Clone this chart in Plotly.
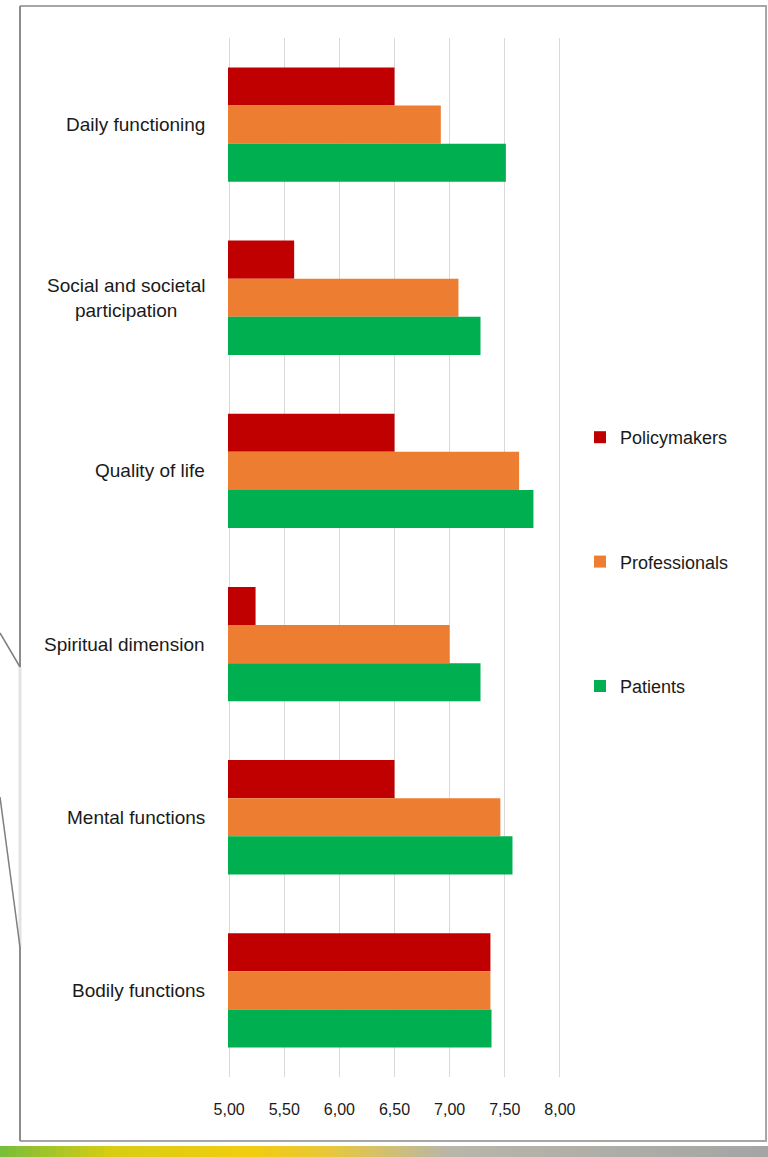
import plotly.graph_objects as go

categories = ["Daily functioning", "Social and societal<br>participation", "Quality of life",
              "Spiritual dimension", "Mental functions", "Bodily functions"]
policymakers = [6.50, 5.59, 6.50, 5.24, 6.50, 7.37]
professionals = [6.92, 7.08, 7.63, 7.00, 7.46, 7.37]
patients = [7.51, 7.28, 7.76, 7.28, 7.57, 7.38]
tick_vals = [5.0, 5.5, 6.0, 6.5, 7.0, 7.5, 8.0]
tick_text = ["5,00", "5,50", "6,00", "6,50", "7,00", "7,50", "8,00"]

W, H = 768, 1157
L, R, T, B = 228, 561, 38, 1077  # plot area in pixels

def px(x):
    return (x - L) / (R - L)

def py(y):
    return (B - y) / (B - T)

FONT = "Liberation Sans, Arial, sans-serif"
TXT = "#1a1a1a"

fig = go.Figure()
series = [("Policymakers", policymakers, "#c00000"),
          ("Professionals", professionals, "#ed7d31"),
          ("Patients", patients, "#00b050")]
for name, vals, col in series:
    fig.add_trace(go.Bar(y=categories, x=vals, name=name, orientation="h",
                         marker=dict(color=col, line=dict(width=0)),
                         legendgroup=name))

# category labels (centered multi-line like the original)
for c in categories:
    fig.add_annotation(x=px(207), y=c, xref="paper", yref="y", text=c,
                       showarrow=False, xanchor="right", align="center",
                       font=dict(family=FONT, size=19, color=TXT))

shapes = []
# frame
fr = "#a6a6a6"
shapes.append(dict(type="line", xref="paper", yref="paper", x0=px(20), x1=px(767), y0=py(6), y1=py(6), line=dict(color=fr, width=2)))
shapes.append(dict(type="line", xref="paper", yref="paper", x0=px(766), x1=px(766), y0=py(6), y1=py(1141), line=dict(color=fr, width=2)))
shapes.append(dict(type="line", xref="paper", yref="paper", x0=px(20), x1=px(767), y0=py(1141), y1=py(1141), line=dict(color=fr, width=2)))
shapes.append(dict(type="line", xref="paper", yref="paper", x0=px(20), x1=px(20), y0=py(6), y1=py(667), line=dict(color="#8c8c8c", width=2)))
shapes.append(dict(type="line", xref="paper", yref="paper", x0=px(20), x1=px(20), y0=py(667), y1=py(947), line=dict(color="#e3e3e3", width=3)))
shapes.append(dict(type="line", xref="paper", yref="paper", x0=px(20), x1=px(20), y0=py(947), y1=py(1141), line=dict(color="#8c8c8c", width=2)))
shapes.append(dict(type="line", xref="paper", yref="paper", x0=px(0), x1=px(20), y0=py(633), y1=py(667), line=dict(color="#7f7f7f", width=1.5)))
shapes.append(dict(type="line", xref="paper", yref="paper", x0=px(0), x1=px(20), y0=py(797), y1=py(947), line=dict(color="#7f7f7f", width=1.5)))

# bottom gradient band
stops = [(0, (120, 190, 60)), (110, (215, 205, 20)), (250, (242, 205, 15)), (330, (232, 200, 60)),
         (450, (185, 182, 170)), (768, (165, 165, 165))]
def colat(x):
    for (xa, ca), (xb, cb) in zip(stops[:-1], stops[1:]):
        if xa <= x <= xb:
            t = (x - xa) / (xb - xa)
            return tuple(int(ca[i] + (cb[i] - ca[i]) * t) for i in range(3))
    return stops[-1][1]
step = 8
for x0 in range(0, 768, step):
    c = colat(x0 + step / 2)
    shapes.append(dict(type="rect", xref="paper", yref="paper", x0=px(x0), x1=px(x0 + step + 0.5),
                       y0=py(1157), y1=py(1146), fillcolor="rgb(%d,%d,%d)" % c, line=dict(width=0), layer="below"))

fig.update_layout(
    width=W, height=H,
    margin=dict(l=L, r=W - R, t=T, b=H - B, pad=0),
    paper_bgcolor="white", plot_bgcolor="white",
    barmode="group", bargap=0.34, bargroupgap=0,
    font=dict(family=FONT, size=18, color=TXT),
    shapes=shapes,
    showlegend=True,
    legend=dict(x=px(580), xanchor="left", y=py(419), yanchor="top",
                tracegroupgap=98, font=dict(family=FONT, size=18, color=TXT),
                bgcolor="rgba(0,0,0,0)"),
    xaxis=dict(range=[4.99, 8.01], tickvals=tick_vals, ticktext=tick_text, showgrid=True,
               gridcolor="#d9d9d9", gridwidth=1, zeroline=False, showline=False,
               ticks="outside", ticklen=18, tickcolor="rgba(0,0,0,0)",
               tickfont=dict(family=FONT, size=16, color=TXT), fixedrange=True),
    yaxis=dict(autorange="reversed", showticklabels=False, showgrid=False,
               zeroline=False, showline=False, ticks=""),
)

fig.write_html("out.html")
